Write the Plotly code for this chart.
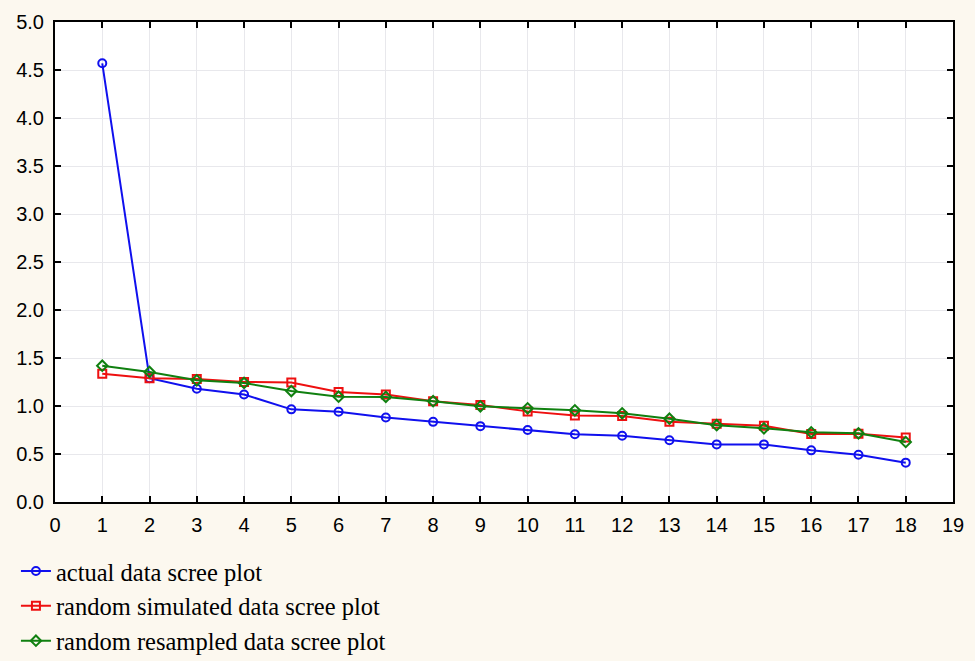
import plotly.graph_objects as go

factors = list(range(1, 19))
actual = [4.57, 1.29, 1.18, 1.12, 0.965, 0.94, 0.88, 0.835, 0.79, 0.75, 0.705, 0.69, 0.643, 0.60, 0.60, 0.538, 0.493, 0.41]
simulated = [1.335, 1.29, 1.28, 1.25, 1.245, 1.145, 1.12, 1.05, 1.01, 0.944, 0.90, 0.895, 0.837, 0.816, 0.795, 0.708, 0.71, 0.672]
resampled = [1.42, 1.355, 1.268, 1.24, 1.156, 1.097, 1.095, 1.05, 0.997, 0.976, 0.955, 0.924, 0.868, 0.80, 0.767, 0.726, 0.715, 0.625]

series = [
    ("actual data scree plot", actual, "#1010ee", "circle-open"),
    ("random simulated data scree plot", simulated, "#ee1010", "square-open"),
    ("random resampled data scree plot", resampled, "#108010", "diamond-open"),
]

fig = go.Figure()
for i, (name, vals, col, sym) in enumerate(series):
    fig.add_trace(go.Scatter(
        x=factors, y=vals, name=name, mode="lines+markers",
        line=dict(color=col, width=2),
        marker=dict(symbol=sym, size=8, color=col, line=dict(width=2, color=col)),
    ))

axis_style = dict(
    showline=True, linecolor="black", linewidth=2, mirror="allticks",
    ticks="inside", ticklen=6, tickcolor="black", tickwidth=1.5,
    showgrid=True, gridcolor="#e8e8ec", gridwidth=1, zeroline=False,
    automargin=False,
    tickfont=dict(family="Liberation Sans, Arial", size=20, color="black"),
)

fig.update_xaxes(range=[0, 19], tickvals=list(range(0, 20)), ticklabelstandoff=4, **axis_style)
fig.update_yaxes(range=[0, 5], dtick=0.5, tickformat=".1f", ticklabelstandoff=5, **axis_style)

fig.update_layout(
    width=975, height=661,
    margin=dict(l=55, r=22, t=22, b=159, autoexpand=False),
    paper_bgcolor="#fcf8ef",
    plot_bgcolor="white",
    showlegend=True,
    legend=dict(
        x=-0.0435, xanchor="left", y=-0.097, yanchor="top",
        font=dict(family="Liberation Serif, Times New Roman", size=24.5, color="black"),
        bgcolor="rgba(0,0,0,0)", tracegroupgap=0,
        itemwidth=30,
    ),
)

# page body has a default 8px margin; drop it so the figure sits at the corner
fig.write_html("out.html", config={"displayModeBar": False},
               post_script="document.body.style.margin='0';")
